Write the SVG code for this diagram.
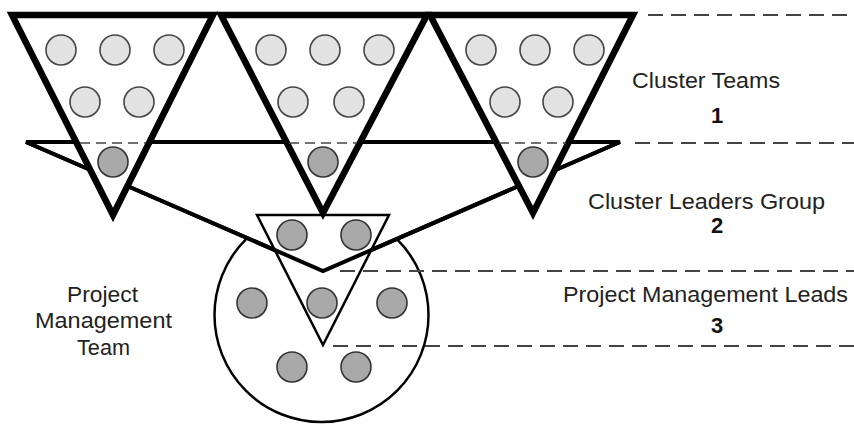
<svg xmlns="http://www.w3.org/2000/svg" width="854" height="424" viewBox="0 0 854 424">
<style>
.bg{fill:#fff}
.team{fill:#fff;stroke:#000;stroke-width:6.5;stroke-linejoin:miter}
.thick{fill:#fff;stroke:#000;stroke-width:4;stroke-linejoin:miter}
.vline{fill:none;stroke:#000;stroke-width:4;stroke-linejoin:miter}
.thin{fill:#fff;stroke:#000;stroke-width:2.5}
.lc{fill:#e2e2e2;stroke:#444;stroke-width:1.6}
.dc{fill:#a9a9a9;stroke:#333;stroke-width:1.6}
.sep{fill:none;stroke:#444;stroke-width:1.8;stroke-dasharray:15 8}
.inner{fill:none;stroke:#444;stroke-width:1.5;stroke-dasharray:10 6}
.lbl{font-family:"Liberation Sans",Arial,sans-serif;font-size:22px;fill:#222;text-anchor:middle}
.num{font-family:"Liberation Sans",Arial,sans-serif;font-size:22px;font-weight:bold;fill:#111;text-anchor:middle}
</style>
<rect class="bg" x="0" y="0" width="854" height="424"/>

<g id="project-management-team">
<circle class="thin" cx="321.5" cy="315" r="107"/>
<circle class="dc" cx="252" cy="303" r="15"/>
<circle class="dc" cx="392" cy="303" r="15"/>
<circle class="dc" cx="292" cy="367" r="15"/>
<circle class="dc" cx="356" cy="367" r="15"/>
</g>

<g id="cluster-leaders-group">
<polygon class="thick" points="26,142 620,142 323,271"/>
</g>

<g id="project-management-leads">
<polygon class="thin" points="257,215 389,215 323,345"/>
<circle class="dc" cx="292" cy="235" r="15"/>
<circle class="dc" cx="356" cy="235" r="15"/>
<circle class="dc" cx="322" cy="303" r="15"/>
</g>

<g id="connectors">
<polyline class="vline" points="26,142 323,271 620,142"/>
</g>

<g id="cluster-team-1">
<polygon class="team" points="12,15 213,15 113,215"/>
<line class="inner" x1="80" y1="143" x2="146" y2="143"/>
<circle class="lc" cx="61" cy="50" r="15"/>
<circle class="lc" cx="115" cy="50" r="15"/>
<circle class="lc" cx="169" cy="50" r="15"/>
<circle class="lc" cx="85" cy="102" r="15"/>
<circle class="lc" cx="139" cy="102" r="15"/>
<circle class="dc" cx="113" cy="162" r="15"/>
</g>

<g id="cluster-team-2">
<polygon class="team" points="221,15 427,15 323,213"/>
<line class="inner" x1="289" y1="143" x2="357" y2="143"/>
<circle class="lc" cx="271" cy="50" r="15"/>
<circle class="lc" cx="325" cy="50" r="15"/>
<circle class="lc" cx="379" cy="50" r="15"/>
<circle class="lc" cx="293" cy="102" r="15"/>
<circle class="lc" cx="349" cy="102" r="15"/>
<circle class="dc" cx="323" cy="162" r="15"/>
</g>

<g id="cluster-team-3">
<polygon class="team" points="430,15 633,15 533,213"/>
<line class="inner" x1="499" y1="143" x2="566" y2="143"/>
<circle class="lc" cx="481" cy="50" r="15"/>
<circle class="lc" cx="535" cy="50" r="15"/>
<circle class="lc" cx="589" cy="50" r="15"/>
<circle class="lc" cx="505" cy="102" r="15"/>
<circle class="lc" cx="558" cy="102" r="15"/>
<circle class="dc" cx="533" cy="162" r="15"/>
</g>

<g id="separators">
<line class="sep" x1="648" y1="15" x2="854" y2="15"/>
<line class="sep" x1="635" y1="143" x2="854" y2="143"/>
<line class="sep" x1="340" y1="271" x2="854" y2="271"/>
<line class="sep" x1="333" y1="346" x2="854" y2="346"/>
</g>

<g id="labels">
<text class="lbl" x="706" y="88" textLength="148" lengthAdjust="spacingAndGlyphs">Cluster Teams</text>
<text class="num" x="717" y="123">1</text>
<text class="lbl" x="706.5" y="209" textLength="237" lengthAdjust="spacingAndGlyphs">Cluster Leaders Group</text>
<text class="num" x="717" y="233">2</text>
<text class="lbl" x="705.5" y="302" textLength="285" lengthAdjust="spacingAndGlyphs">Project Management Leads</text>
<text class="num" x="717" y="333">3</text>
<text class="lbl" x="102.5" y="302" textLength="71" lengthAdjust="spacingAndGlyphs">Project</text>
<text class="lbl" x="103.5" y="328" textLength="137" lengthAdjust="spacingAndGlyphs">Management</text>
<text class="lbl" x="103.5" y="355" textLength="53" lengthAdjust="spacingAndGlyphs">Team</text>
</g>
</svg>
